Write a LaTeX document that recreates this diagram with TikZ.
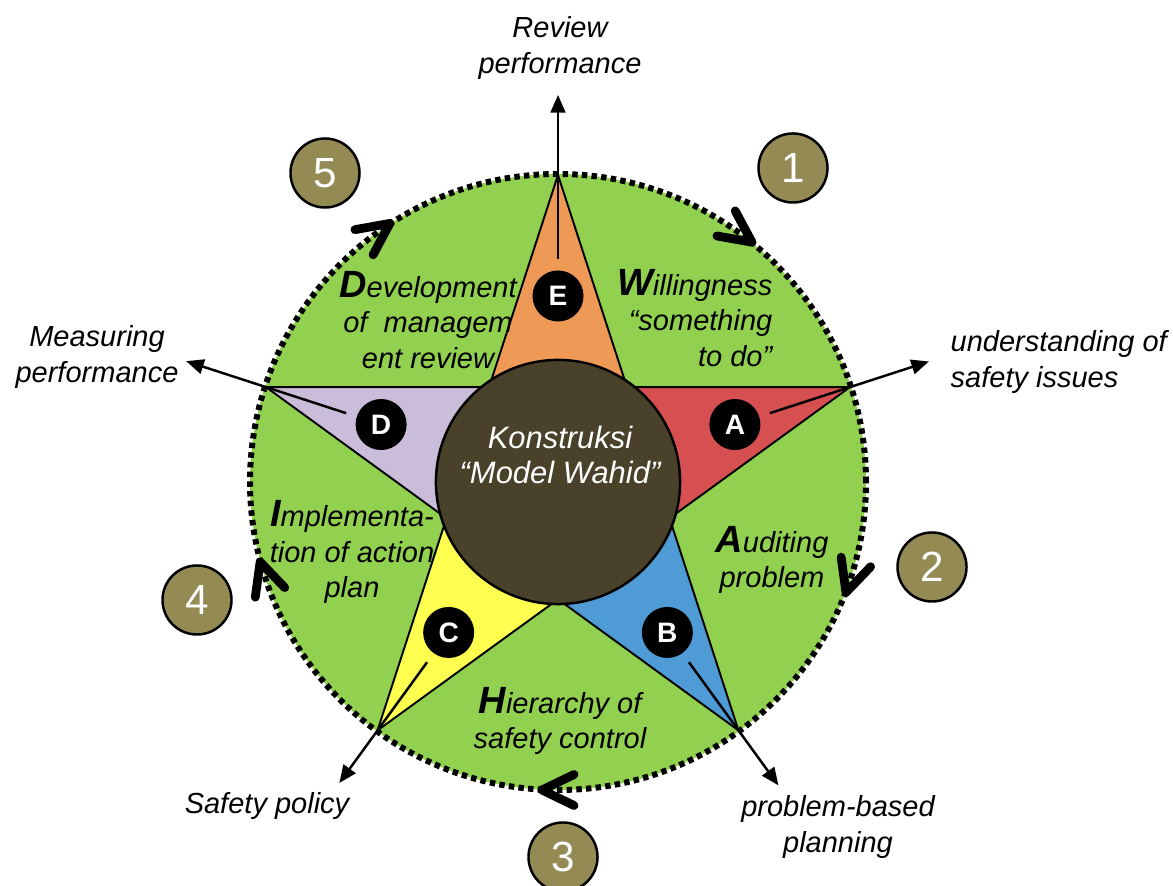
\documentclass[tikz,border=0pt]{standalone}
\usepackage{fontspec}
\setmainfont{Liberation Sans}
\usetikzlibrary{arrows.meta}

\definecolor{leafgreen}{HTML}{92D050}
\definecolor{ptorange}{HTML}{EE9A56}
\definecolor{ptred}{HTML}{D65052}
\definecolor{ptblue}{HTML}{4E9BD5}
\definecolor{ptyellow}{HTML}{FFFF4F}
\definecolor{ptlilac}{HTML}{C9BDD9}
\definecolor{hubbrown}{HTML}{494129}
\definecolor{olivedisc}{HTML}{948A54}

% enlarged bold first letter of a step name
\newcommand\bigini[1]{{\fontsize{10.8}{10}\selectfont\bfseries #1}}

\begin{document}
\begin{tikzpicture}[x=0.01cm,y=0.01cm,
  txt/.style={font=\fontsize{8.25}{10}\selectfont\itshape, align=center, inner sep=0pt},
  hubtxt/.style={font=\fontsize{8.8}{10}\selectfont\itshape, align=center, inner sep=0pt, text=white},
  numdisc/.style={circle, draw=black, line width=0.7pt, fill=olivedisc, minimum size=0.69cm,
    inner sep=0pt, text=white, font=\fontsize{12}{12}\selectfont},
  letdisc/.style={circle, fill=black, minimum size=0.51cm, inner sep=0pt, text=white,
    font=\fontsize{8}{8}\selectfont\bfseries},
  pointer/.style={line width=0.7pt, shorten <=3pt, -{Triangle[length=5pt,width=4.2pt]}},
  starpt/.style={draw=black, line width=0.55pt},
  ring/.style={line width=1.7pt, dash pattern=on 1.55pt off 1.2pt},
  chevron/.style={line width=2.5pt, line cap=round, line join=round},
  hubdisc/.style={circle, draw=black, line width=0.7pt, fill=hubbrown, minimum size=2.44cm, inner sep=0pt},
]
\clip (0,0) rectangle (1173,885);

\begin{scope}[shift={(558,403)}]
  % green disc
  \fill[leafgreen] (0,0) circle (308);

  % the five points of the star
  \def\ri{117.3}
  \filldraw[starpt, fill=ptorange] (90:307)   -- (126:\ri)  -- (54:\ri)   -- cycle;
  \filldraw[starpt, fill=ptred]    (18:307)   -- (54:\ri)   -- (-18:\ri)  -- cycle;
  \filldraw[starpt, fill=ptblue]   (-54:307)  -- (-18:\ri)  -- (-90:\ri)  -- cycle;
  \filldraw[starpt, fill=ptyellow] (-126:307) -- (-90:\ri)  -- (-162:\ri) -- cycle;
  \filldraw[starpt, fill=ptlilac]  (162:307)  -- (-162:\ri) -- (126:\ri)  -- cycle;

  % dotted rim
  \draw[ring] (0,0) circle (308);

  % direction marks on the rim (clockwise)
  \foreach \a in {54,-18,-90,-162,126}
    \draw[chevron, shift={(\a:308)}, rotate=\a-90] (-16,15.5) -- (16,0) -- (-16,-15.5);

  % hub
  \node[hubdisc] (hub) at (0,0) {};

  % lettered markers
  \node[letdisc] (nE) at (90:186)   {E};
  \node[letdisc] (nA) at (18:186)   {A};
  \node[letdisc] (nB) at (-54:186)  {B};
  \node[letdisc] (nC) at (-126:186) {C};
  \node[letdisc] (nD) at (162:186)  {D};

  % pointer tips
  \coordinate (tipE) at (90:387);
  \coordinate (tipA) at (18:390);
  \coordinate (tipB) at (-54:375);
  \coordinate (tipC) at (-126:372);
  \coordinate (tipD) at (162:391);
\end{scope}

% pointers through the star tips
\draw[pointer] (nE) -- (tipE);
\draw[pointer] (nA) -- (tipA);
\draw[pointer] (nB) -- (tipB);
\draw[pointer] (nC) -- (tipC);
\draw[pointer] (nD) -- (tipD);

% hub caption
\node[hubtxt] (hubcap) at (560,430) {Konstruksi\\“Model Wahid”};

% step names on the green ring
\node[txt, align=right, anchor=east] (wtxt) at (773,567) {\bigini{W}illingness\\“something\\to do”};
\node[txt] (atxt) at (772,325) {\bigini{A}uditing\\problem};
\node[txt] (htxt) at (560,164) {\bigini{H}ierarchy of\\safety control};
\node[txt] (itxt) at (352,333) {\bigini{I}mplementa-\\tion of action\\plan};
\node[txt] (dtxt) at (428,565) {\bigini{D}evelopment\\of\ \ managem\\ent review};

% outer captions
\node[txt] (rev) at (560,837) {Review\\performance};
\node[txt] (und) [align=left, anchor=west] at (950,523) {understanding of\\safety issues};
\node[txt] (plan) at (838,58) {problem-based\\planning};
\node[txt] (pol) at (267,79) {Safety policy};
\node[txt] (meas) at (97,528) {Measuring\\performance};

% step numbers
\node[numdisc] (s1) at (793,717) {1};
\node[numdisc] (s2) at (932,318) {2};
\node[numdisc] (s3) at (563,28)  {3};
\node[numdisc] (s4) at (197,285) {4};
\node[numdisc] (s5) at (325,712) {5};
\end{tikzpicture}
\end{document}
